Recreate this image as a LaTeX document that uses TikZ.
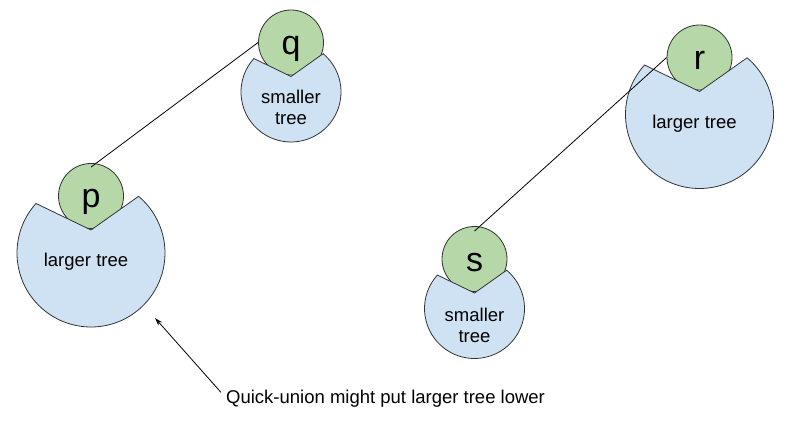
\documentclass[tikz,border=0pt]{standalone}
\usepackage{fontspec}
\setmainfont{Liberation Sans}
\usepackage{xcolor}
\usepackage{tikz}
\usetikzlibrary{positioning,calc,arrows.meta}

\definecolor{leafgreen}{HTML}{B6D7A8}
\definecolor{treeblue}{HTML}{CFE2F3}
\definecolor{edgegray}{HTML}{333333}

\begin{document}
\begin{tikzpicture}[x=1pt, y=1pt,
    ball/.style={draw=edgegray, fill=leafgreen, circle, minimum size=65pt, inner sep=0pt, line width=0.8pt,
        font=\fontsize{34}{36}\selectfont, text height=24pt, text depth=0pt},
    treeblob/.style={draw=edgegray, fill=treeblue, line width=0.8pt},
    treelabel/.style={align=center, font=\fontsize{18.5}{21}\selectfont},
    link/.style={draw=black, line width=0.8pt}]
    \useasboundingbox (0,0) rectangle (791,423);

    % centres of the tree shapes
    \coordinate (tp) at (91,170);
    \coordinate (tq) at (291,331);
    \coordinate (tr) at (699.5,308.5);
    \coordinate (ts) at (474.5,114.5);

    % roots, behind the trees
    \node[ball] (p) at ($(tp)+(0,57)$) {p};
    \node[ball] (q) at ($(tq)+(0,49.5)$) {q};
    \node[ball] (r) at ($(tr)+(0,57)$) {r};
    \node[ball] (s) at ($(ts)+(0,49.5)$) {s};

    % trees
    \filldraw[treeblob] ($(tp)+(138:74pt)$) arc[start angle=138, end angle=410, radius=74pt]
        -- ($(tp)+(0,23)$) -- cycle;
    \filldraw[treeblob] ($(tq)+(138:50pt)$) arc[start angle=138, end angle=410, radius=50pt]
        -- ($(tq)+(0,15.5)$) -- cycle;
    \filldraw[treeblob] ($(tr)+(138:74pt)$) arc[start angle=138, end angle=410, radius=74pt]
        -- ($(tr)+(0,23)$) -- cycle;
    \filldraw[treeblob] ($(ts)+(138:50pt)$) arc[start angle=138, end angle=410, radius=50pt]
        -- ($(ts)+(0,15.5)$) -- cycle;

    \node[treelabel] (plarge) at ($(tp)+(-5,-9)$) {larger tree};
    \node[treelabel] (qsmall) at ($(tq)+(0,-15.5)$) {smaller\\tree};
    \node[treelabel] (rlarge) at ($(tr)+(-5,-9)$) {larger tree};
    \node[treelabel] (ssmall) at ($(ts)+(0,-17)$) {smaller\\tree};

    \draw[link] (q.west) -- ([yshift=-4pt]p.north);
    \draw[link] (r.west) -- ([yshift=-5pt]s.north);

    \node[treelabel, anchor=base west, inner sep=1pt] (note) at (225,20) {Quick-union might put larger tree lower};
    \coordinate (tip) at (155,105);
    \draw[link, -{Stealth[length=8pt, width=5pt]}] ([shift={(-4,-4)}]note.north west) -- (tip);
\end{tikzpicture}
\end{document}
